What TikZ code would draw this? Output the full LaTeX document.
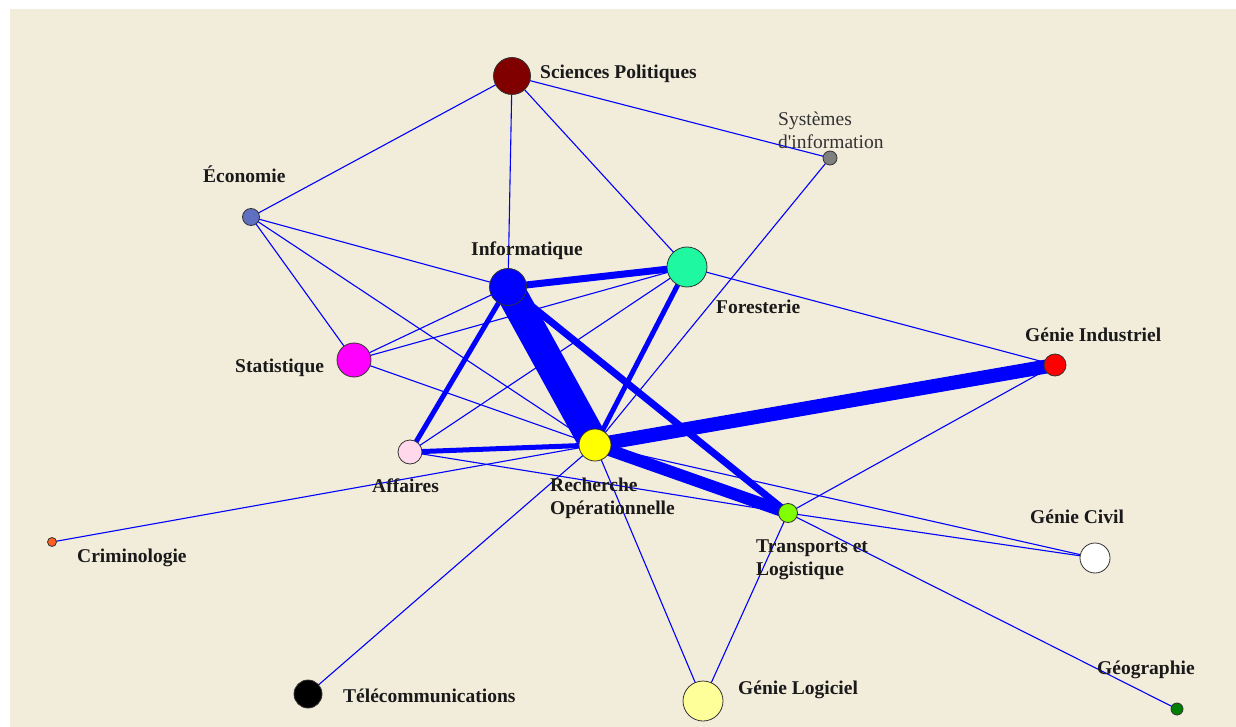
\documentclass[tikz,border=0pt]{standalone}
\usepackage{fontspec}
\setmainfont{Liberation Serif}

\pgfdeclarelayer{paper}
\pgfdeclarelayer{links}
\pgfsetlayers{paper,links,main}

\definecolor{paperbg}{HTML}{F2ECDB}
\definecolor{csp}{HTML}{800000}
\definecolor{csi}{HTML}{808080}
\definecolor{ceco}{HTML}{6070C0}
\definecolor{cinf}{HTML}{0000FF}
\definecolor{cfor}{HTML}{1EF9A1}
\definecolor{csta}{HTML}{FF00FF}
\definecolor{cgi}{HTML}{FF0000}
\definecolor{caff}{HTML}{FFD8EC}
\definecolor{cro}{HTML}{FFFF00}
\definecolor{ctl}{HTML}{80FF00}
\definecolor{ccri}{HTML}{FF6020}
\definecolor{cgc}{HTML}{FFFFFF}
\definecolor{ctel}{HTML}{000000}
\definecolor{cgl}{HTML}{FFFF99}
\definecolor{cgeo}{HTML}{008000}
\definecolor{labelink}{HTML}{1A1A1A}

\begin{document}
\begin{tikzpicture}[x=1pt,y=-1pt,
  vert/.style={circle, draw=black!80, line width=0.8pt, inner sep=0pt, minimum size=#1},
  wire/.style={draw=blue, line width=1.1pt},
  heavy/.style={draw=blue, line width=#1},
  lbl/.style={anchor=base west, inner sep=0pt, text=labelink,
    font=\fontsize{19.5}{23}\selectfont\bfseries},
  lblthin/.style={anchor=base west, inner sep=0pt, text=black!80,
    font=\fontsize{19.5}{23}\selectfont},
]
\useasboundingbox (0,0) rectangle (1236,727);

% paper
\begin{pgfonlayer}{paper}
  \fill[white] (0,0) rectangle (1236,727);
  \fill[paperbg] (10,9) rectangle (1236,727);
\end{pgfonlayer}

% vertices
\node[vert=37pt, fill=csp]  (sp)  at (512,76)  {};
\node[vert=14pt, fill=csi]  (si)  at (830,158) {};
\node[vert=17pt, fill=ceco] (eco) at (251,217) {};
\node[vert=37pt, fill=cinf] (inf) at (508,287) {};
\node[vert=40pt, fill=cfor] (for) at (687,267) {};
\node[vert=34pt, fill=csta] (sta) at (354,360) {};
\node[vert=22pt, fill=cgi]  (gi)  at (1055,365) {};
\node[vert=24pt, fill=caff] (aff) at (410,452) {};
\node[vert=32pt, fill=cro]  (ro)  at (595,445) {};
\node[vert=19pt, fill=ctl]  (tl)  at (788,513) {};
\node[vert=9pt,  fill=ccri] (cri) at (52,542)  {};
\node[vert=30pt, fill=cgc]  (gc)  at (1095,558) {};
\node[vert=28pt, fill=ctel] (tel) at (308,694) {};
\node[vert=40pt, fill=cgl]  (gl)  at (703,701) {};
\node[vert=12pt, fill=cgeo] (geo) at (1177,709) {};

% links
\begin{pgfonlayer}{links}
  % thin links
  \draw[wire] (sp.center) -- (eco.center);
  \draw[wire] (sp.center) -- (inf.center);
  \draw[wire] (sp.center) -- (for.center);
  \draw[wire] (sp.center) -- (si.center);
  \draw[wire] (si.center) -- (ro.center);
  \draw[wire] (eco.center) -- (inf.center);
  \draw[wire] (eco.center) -- (sta.center);
  \draw[wire] (eco.center) -- (ro.center);
  \draw[wire] (sta.center) -- (inf.center);
  \draw[wire] (sta.center) -- (for.center);
  \draw[wire] (sta.center) -- (ro.center);
  \draw[wire] (aff.center) -- (for.center);
  \draw[wire] (aff.center) -- (tl.center);
  \draw[wire] (for.center) -- (gi.center);
  \draw[wire] (cri.center) -- (ro.center);
  \draw[wire] (ro.center) -- (tel.center);
  \draw[wire] (ro.center) -- (gl.center);
  \draw[wire] (ro.center) -- (gc.center);
  \draw[wire] (tl.center) -- (gi.center);
  \draw[wire] (tl.center) -- (gc.center);
  \draw[wire] (tl.center) -- (geo.center);
  \draw[wire] (tl.center) -- (gl.center);
  % weighted links
  \draw[heavy=30pt] (inf.center) -- (ro.center);
  \draw[heavy=7pt]  (inf.center) -- (for.center);
  \draw[heavy=5pt]  (inf.center) -- (aff.center);
  \draw[heavy=7pt]  (inf.center) -- (tl.center);
  \draw[heavy=5pt]  (for.center) -- (ro.center);
  \draw[heavy=5pt]  (aff.center) -- (ro.center);
  \draw[heavy=14pt] (ro.center) -- (gi.center);
  \draw[heavy=12pt] (ro.center) -- (tl.center);
\end{pgfonlayer}

% labels
\node[lbl] (t-sp)  at (540,79)  {Sciences Politiques};
\node[lblthin] (t-si1) at (778,126) {Systèmes};
\node[lblthin] (t-si2) at (778,149) {d\textquotesingle information};
\node[lbl] (t-eco) at (203,183) {Économie};
\node[lbl] (t-inf) at (471,255) {Informatique};
\node[lbl] (t-for) at (716,313) {Foresterie};
\node[lbl] (t-sta) at (235,372) {Statistique};
\node[lbl] (t-gi)  at (1025,341) {Génie Industriel};
\node[lbl] (t-aff) at (372,492) {Affaires};
\node[lbl] (t-ro1) at (550,491) {Recherche};
\node[lbl] (t-ro2) at (550,514) {Opérationnelle};
\node[lbl] (t-tl1) at (756,552) {Transports et};
\node[lbl] (t-tl2) at (756,575) {Logistique};
\node[lbl] (t-cri) at (77,562)  {Criminologie};
\node[lbl] (t-gc)  at (1030,523) {Génie Civil};
\node[lbl] (t-tel) at (343,702) {Télécommunications};
\node[lbl] (t-gl)  at (738,694) {Génie Logiciel};
\node[lbl] (t-geo) at (1097,674) {Géographie};
\end{tikzpicture}
\end{document}
